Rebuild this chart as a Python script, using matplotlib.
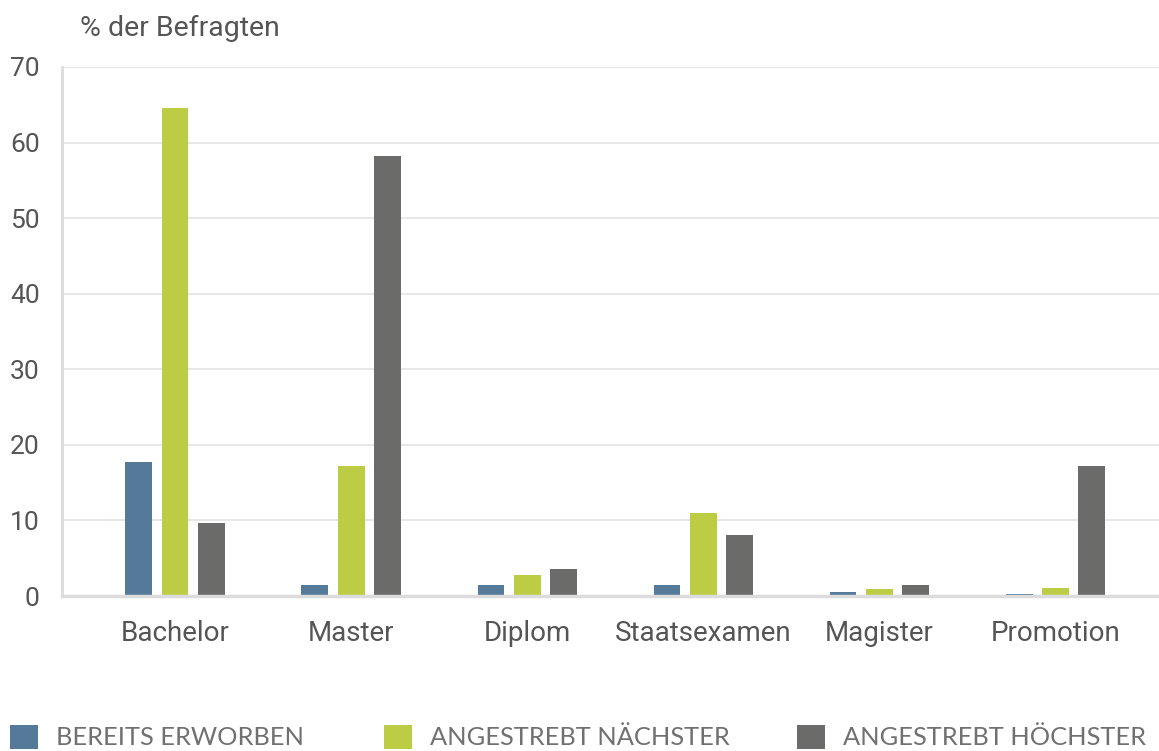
import matplotlib
matplotlib.use("Agg")
import matplotlib.pyplot as plt
import numpy as np

categories = ["Bachelor", "Master", "Diplom", "Staatsexamen", "Magister", "Promotion"]
series_names = ["BEREITS ERWORBEN", "ANGESTREBT NÄCHSTER", "ANGESTREBT HÖCHSTER"]
bereits = [17.7, 1.5, 1.4, 1.5, 0.5, 0.3]
naechster = [64.6, 17.2, 2.8, 11.0, 0.9, 1.1]
hoechster = [9.7, 58.2, 3.6, 8.1, 1.4, 17.2]
yticks = [0, 10, 20, 30, 40, 50, 60, 70]
ylabel = "% der Befragten"

colors = ["#557a99", "#bccc45", "#6b6b69"]
text_color = "#555555"
grid_color = "#e3e3e3"

W, H = 1159, 751
fig = plt.figure(figsize=(W / 100, H / 100), dpi=100)
ax = fig.add_axes([62 / W, (H - 596) / H, (W - 62) / W, (596 - 67) / H])

x = np.arange(len(categories))
bw = 0.153
pitch = 0.205
containers = []
for i, (vals, c, name) in enumerate(zip([bereits, naechster, hoechster], colors, series_names)):
    bc = ax.bar(x + (i - 1) * pitch, vals, width=bw, color=c, label=name, zorder=3)
    containers.append(bc)

ax.set_xlim(-0.642, 5.59)
ax.set_ylim(0, 70)
ax.set_yticks(yticks)
ax.set_yticklabels([str(t) for t in yticks])
ax.set_xticks(x)
ax.set_xticklabels(categories)
ax.yaxis.grid(True, color=grid_color, linewidth=1.2, zorder=0)
ax.set_axisbelow(True)
for s in ["top", "right"]:
    ax.spines[s].set_visible(False)
ax.spines["left"].set_color("#dcdcdc")
ax.spines["left"].set_linewidth(2)
ax.spines["bottom"].set_color("#dcdcdc")
ax.spines["bottom"].set_linewidth(2.5)
ax.spines["bottom"].set_zorder(4)
ax.tick_params(axis="both", length=0, colors=text_color)
ax.tick_params(axis="y", labelsize=19, pad=16)
ax.tick_params(axis="x", labelsize=20, pad=17)
for lab in ax.get_xticklabels() + ax.get_yticklabels():
    lab.set_fontfamily(["Roboto", "DejaVu Sans"])
    lab.set_color(text_color)

fig.text(80 / W, (H - 28) / H, ylabel, fontsize=20.5, color=text_color,
         family=["Roboto", "DejaVu Sans"], va="center", ha="left")

leg_x = [10, 384, 797]
for bc, name, lx in zip(containers, series_names, leg_x):
    leg = fig.legend([bc.patches[0]], [name], loc="center left",
                     bbox_to_anchor=(lx / W, (H - 737) / H), frameon=False,
                     handlelength=1.1, handleheight=1.1, handletextpad=0.7,
                     borderpad=0, borderaxespad=0,
                     prop={"family": "Lato", "weight": "normal", "size": 18.3})
    for t in leg.get_texts():
        t.set_color("#707070")

fig.savefig("out.png", dpi=100)
